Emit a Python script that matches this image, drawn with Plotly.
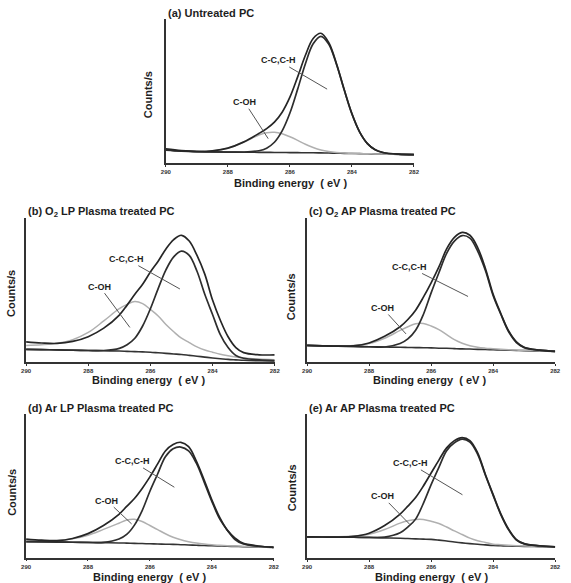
import plotly.graph_objects as go

W, H = 571, 583

# Binding energy grid (eV)
energy = [290, 289.5, 289, 288.5, 288, 287.5, 287, 286.75, 286.5, 286.25, 286, 285.75,
          285.5, 285.25, 285, 284.75, 284.5, 284.25, 284, 283.75, 283.5, 283.25, 283, 282.5, 282]

# (a) Untreated PC
a_env = [9.8, 8.6, 8.0, 8.4, 10.3, 14.5, 20.5, 23.9, 28.4, 35.3, 45.7, 59.8, 74.8, 86.5, 90.1,
         83.7, 69.1, 51.0, 34.2, 21.5, 13.5, 9.2, 7.3, 6.1, 5.8]
a_cc = [9.0, 8.3, 7.9, 7.7, 7.6, 7.6, 8.5, 10.3, 14.4, 22.3, 34.7, 51.3, 68.9, 82.8, 88.0,
        82.6, 68.6, 50.8, 34.1, 21.5, 13.5, 9.2, 7.3, 6.1, 5.8]
a_coh = [9.0, 8.3, 8.0, 8.4, 10.3, 14.4, 19.4, 21.0, 21.3, 20.3, 18.2, 15.7, 13.0, 10.8, 9.1,
         8.0, 7.3, 6.9, 6.7, 6.5, 6.4, 6.3, 6.2, 6.0, 5.8]
a_bg = [9.0, 8.3, 7.9, 7.7, 7.6, 7.5, 7.4, 7.4, 7.3, 7.3, 7.2, 7.2, 7.1, 7.1, 7.0,
        6.9, 6.8, 6.7, 6.6, 6.5, 6.4, 6.3, 6.2, 6.0, 5.8]

# (b) O2 LP plasma treated PC
b_env = [14, 13.2, 12.9, 14.3, 17.6, 23.5, 32.6, 39.5, 47, 54, 62.5, 70, 78.5, 85, 88,
         84, 74, 61, 43, 29, 17.5, 10, 6.5, 5, 5]
b_cc = [8.8, 8.6, 8.4, 8.2, 8.0, 8.0, 9.5, 12, 16.5, 25, 37, 51, 64, 73, 77,
        74, 63, 47, 33, 19, 10, 4.5, 2.6, 1.5, 1.0]
b_coh = [11.5, 12, 13, 15.5, 20.5, 28.5, 37, 40, 42, 40.5, 36.5, 32, 26, 21, 16.5,
         13.5, 10.5, 8.3, 6.8, 5.4, 4.3, 3.4, 2.8, 2.0, 1.5]
b_bg = [8.8, 8.6, 8.4, 8.2, 8.0, 7.8, 7.6, 7.4, 7.2, 7.0, 6.8, 6.4, 6.0, 5.6, 5.2,
        4.6, 4.0, 3.4, 2.8, 2.3, 1.8, 1.5, 1.2, 0.9, 0.7]

# (c) O2 AP plasma treated PC
c_env = [11.5, 11.2, 11, 11.2, 13.2, 17.8, 24.5, 29.5, 36, 45, 55, 66, 78.5, 86.5, 90,
         88, 79.5, 65, 47, 33.5, 21.5, 14, 10.2, 8.2, 7.4]
c_cc = [11.5, 11.2, 11, 10.8, 10.6, 10.4, 12.8, 16, 22, 33, 48, 62, 75.5, 84, 87.8,
        86, 77, 63.5, 46, 33, 21, 13.5, 10, 8.2, 7.4]
c_coh = [11.5, 11.2, 11.1, 11.5, 12.8, 16.5, 22, 24.5, 26.5, 26.7, 25, 22.5, 19, 15.5, 13,
         11.3, 10.2, 9.6, 9.2, 8.8, 8.5, 8.3, 8.1, 7.8, 7.4]
c_bg = [11.5, 11.2, 11, 10.8, 10.6, 10.4, 10.2, 10.1, 10, 9.9, 9.8, 9.6, 9.5, 9.3, 9.1,
        9.0, 8.8, 8.7, 8.5, 8.4, 8.2, 8.0, 7.9, 7.6, 7.4]

# (d) Ar LP plasma treated PC
d_env = [12.8, 12, 11.7, 13.2, 16.6, 22.2, 30, 35.5, 41, 48, 56, 65, 74, 78.5, 80,
         77, 67, 54, 40, 28, 19, 13.5, 10, 8, 7]
d_cc = [11, 10.9, 10.8, 10.6, 10.5, 10.5, 12.8, 16, 22.5, 32.6, 46, 58, 70, 75.5, 76.7,
        74, 65.5, 52.5, 39, 27, 19, 12.5, 9.5, 7.8, 7]
d_coh = [11.2, 11.2, 11.7, 13, 15.5, 19.5, 23.8, 26, 26.5, 25.0, 22.2, 19.4, 16.5, 14.1, 12.3,
         11.0, 10.0, 9.3, 8.8, 8.5, 8.2, 8, 7.8, 7.4, 7]
d_bg = [11, 10.9, 10.7, 10.6, 10.4, 10.3, 10.1, 10.0, 9.8, 9.7, 9.5, 9.4, 9.2, 9.1, 8.9,
        8.7, 8.5, 8.3, 8.2, 8.0, 7.8, 7.7, 7.5, 7.3, 7]

# (e) Ar AP plasma treated PC
e_env = [14.7, 14.6, 14.5, 15, 17.2, 22.5, 30.5, 36, 42, 50, 59, 68, 76.5, 81.5, 83.6,
         81.5, 73, 58, 44, 30.5, 20, 12.8, 10, 8.5, 7.7]
e_cc = [14.7, 14.6, 14.5, 14.4, 14.3, 14.5, 17.5, 21.5, 27, 38, 51, 63, 74.5, 80, 82.5,
        80.5, 72, 57.5, 43.5, 30, 19.5, 12.5, 9.8, 8.4, 7.7]
e_coh = [14.7, 14.7, 14.7, 15.2, 16.5, 19.8, 24.2, 25.8, 26.8, 26.8, 25.5, 24, 21.5, 18.8, 16.3,
         13.8, 12, 10.8, 9.6, 9.2, 8.8, 8.5, 8.3, 8, 7.7]
e_bg = [14.7, 14.6, 14.5, 14.4, 14.2, 14.0, 13.7, 13.5, 13.3, 13.1, 12.9, 12.4, 11.8, 11.1, 10.5,
        10.0, 9.5, 9.1, 8.7, 8.5, 8.3, 8.2, 8.1, 7.9, 7.7]

titles = ["(a) Untreated PC", "(b) O<sub>2</sub> LP Plasma treated PC",
          "(c) O<sub>2</sub> AP Plasma treated PC", "(d) Ar LP Plasma treated PC",
          "(e) Ar AP Plasma treated PC"]
tick_vals = [290, 288, 286, 284, 282]
tick_text = ["290", "288", "286", "284", "282"]
x_title = "Binding energy  ( eV )"
y_title = "Counts/s"
peak_labels = ["C-C,C-H", "C-OH"]

# label positions (text centre, line end) in data units, per panel
cc_label = [(286.38, 71.2, 284.80, 51.3), (286.76, 71.4, 285.05, 50.7), (286.71, 66.0, 284.81, 45.5),
            (286.56, 66.7, 285.21, 48.8), (286.68, 65.7, 284.99, 43.9)]
coh_label = [(287.46, 42.2, 286.70, 16.9), (287.63, 52.3, 286.66, 24.0), (287.57, 37.5, 286.81, 19.5),
             (287.39, 39.5, 286.59, 23.3), (287.57, 42.8, 286.70, 23.6)]

panels = [
    (a_env, a_cc, a_coh, a_bg),
    (b_env, b_cc, b_coh, b_bg),
    (c_env, c_cc, c_coh, c_bg),
    (d_env, d_cc, d_coh, d_bg),
    (e_env, e_cc, e_coh, e_bg),
]

# layout boxes in pixels: (left, right, bottom, top)
boxes = [(164, 417, 163, 19), (21.5, 275, 362, 218), (308, 561, 362, 218),
         (21.5, 274, 557.5, 413.5), (308, 561, 558, 414)]
title_pos = [(164, 13), (21, 212), (308, 212), (21, 408), (308, 408)]
ytitle_pos = [(146, 95), (6, 293), (292, 297), (7, 492), (293, 488)]
xtitle_pos = [(291, 183), (146, 380), (433, 380), (147, 577), (435, 577)]

FONT = "Liberation Sans, Arial, sans-serif"
fig = go.Figure()
layout = dict(width=W, height=H, margin=dict(l=0, r=0, t=0, b=0),
              paper_bgcolor="white", plot_bgcolor="white", showlegend=False)
annotations = []

for i, (env, cc, coh, bg) in enumerate(panels):
    n = "" if i == 0 else str(i + 1)
    xa, ya = "x" + n, "y" + n
    for ys, col, w in [(bg, "#333333", 1.6), (coh, "#b0b0b0", 1.5), (cc, "#2e2e2e", 1.7), (env, "#262626", 1.7)]:
        fig.add_trace(go.Scatter(x=energy, y=ys, mode="lines", xaxis=xa, yaxis=ya,
                                 line=dict(color=col, width=w, shape="spline", smoothing=1.0),
                                 hoverinfo="skip"))
    l, r, b, t = boxes[i]
    layout["xaxis" + n] = dict(domain=[l / W, r / W], range=[290, 282], anchor=ya,
                               showline=True, linecolor="#333", linewidth=1.6,
                               ticks="outside", ticklen=2, tickwidth=1, tickcolor="#333",
                               tickvals=tick_vals, ticktext=tick_text,
                               tickfont=dict(family=FONT, size=6, color="#333", weight="bold"),
                               showgrid=False, zeroline=False)
    layout["yaxis" + n] = dict(domain=[1 - b / H, 1 - t / H], range=[0, 100], anchor=xa,
                               showline=True, linecolor="#333", linewidth=1.6,
                               showticklabels=False, ticks="", showgrid=False, zeroline=False)
    tx, ty = title_pos[i]
    annotations.append(dict(x=tx / W, y=1 - ty / H, xref="paper", yref="paper", text=titles[i],
                            showarrow=False, xanchor="left", yanchor="middle",
                            font=dict(family=FONT, size=11, color="#1e1e1e", weight="bold")))
    yx, yy = ytitle_pos[i]
    annotations.append(dict(x=yx / W, y=1 - yy / H, xref="paper", yref="paper", text=y_title,
                            showarrow=False, textangle=-90, xanchor="center", yanchor="middle",
                            font=dict(family=FONT, size=11, color="#1e1e1e", weight="bold")))
    bx, by = xtitle_pos[i]
    annotations.append(dict(x=bx / W, y=1 - by / H, xref="paper", yref="paper", text=x_title,
                            showarrow=False, xanchor="center", yanchor="middle",
                            font=dict(family=FONT, size=11, color="#1e1e1e", weight="bold")))
    for lab, (ax_, ay_, x_, y_) in zip(peak_labels, [cc_label[i], coh_label[i]]):
        annotations.append(dict(x=x_, y=y_, xref=xa, yref=ya, ax=ax_, ay=ay_, axref=xa, ayref=ya,
                                text=lab, showarrow=True, arrowhead=0, arrowwidth=1,
                                arrowcolor="#555", standoff=0,
                                font=dict(family=FONT, size=9, color="#1e1e1e", weight="bold")))

layout["annotations"] = annotations
fig.update_layout(**layout)
fig.write_html("out.html")
